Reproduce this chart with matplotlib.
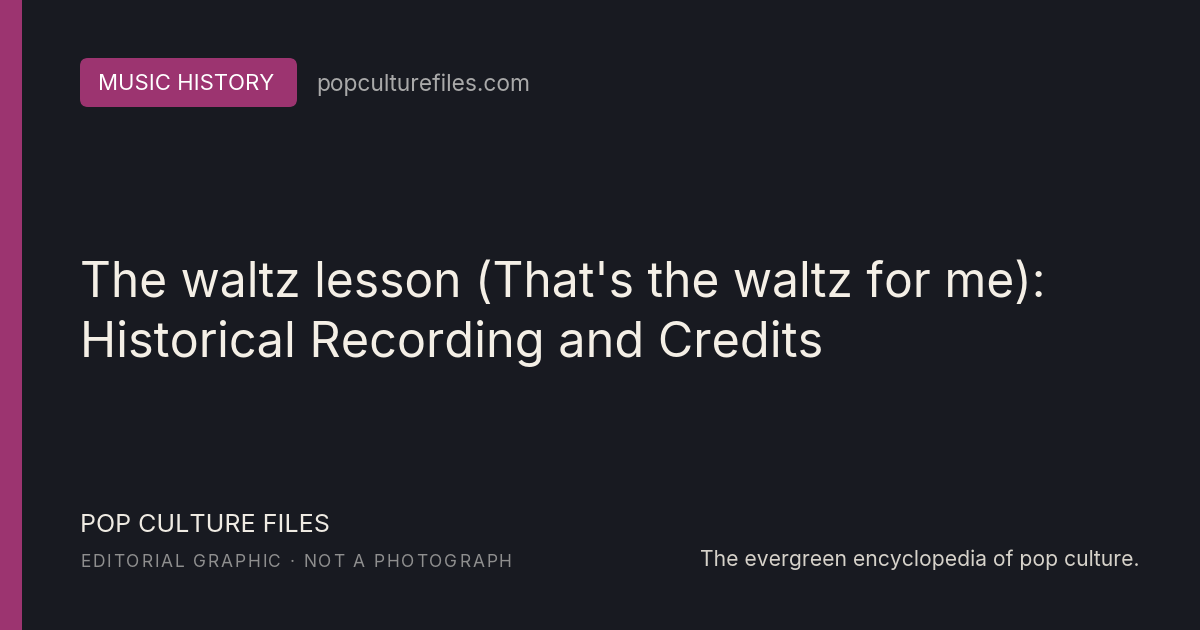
import matplotlib
matplotlib.use("Agg")
import matplotlib.pyplot as plt
from matplotlib.patches import FancyBboxPatch, Rectangle

W, H = 1200, 630
BG = "#181a21"
ACCENT = "#9c3470"
CREAM = "#f4efe6"

category_label = "MUSIC HISTORY"
site_label = "popculturefiles.com"
title_lines = ["The waltz lesson (That's the waltz for me):",
               "Historical Recording and Credits"]
brand_label = "POP CULTURE FILES"
sub_label = "EDITORIAL GRAPHIC \u00b7 NOT A PHOTOGRAPH"
tagline = "The evergreen encyclopedia of pop culture."

fig = plt.figure(figsize=(W / 100, H / 100), dpi=100)
fig.patch.set_facecolor(BG)
ax = fig.add_axes([0, 0, 1, 1])
ax.set_xlim(0, W)
ax.set_ylim(H, 0)
ax.axis("off")
ax.set_facecolor(BG)

renderer = fig.canvas.get_renderer()
FAMILY = ["Inter", "DejaVu Sans"]


def text_width(s, size, weight="normal"):
    t = ax.text(0, 0, s, fontsize=size, family=FAMILY, weight=weight)
    bb = t.get_window_extent(renderer=renderer)
    t.remove()
    return bb.width


def fit_text(x, y, s, target_w, color, weight="normal", ha="left"):
    w = text_width(s, 20, weight)
    size = 20 * target_w / w
    ax.text(x, y, s, fontsize=size, family=FAMILY, color=color,
            weight=weight, va="baseline", ha=ha)
    return size


def tracked_text(x, y, s, size, tracking, color):
    for i, ch in enumerate(s):
        if ch == " ":
            continue
        pre = s[:i]
        off = text_width(pre + "|", size) - text_width("|", size) if pre else 0
        ax.text(x + off + i * tracking, y, ch, fontsize=size, family=FAMILY,
                color=color, va="baseline", ha="left")


# left accent bar
ax.add_patch(Rectangle((0, 0), 22, H, color=ACCENT, lw=0))

# category pill
ax.add_patch(FancyBboxPatch((80 + 8, 58 + 8), 217 - 16, 49 - 16,
                            boxstyle="round,pad=8", color=ACCENT, lw=0))
fit_text(98, 90, category_label, 176, "#ffffff")
fit_text(316, 91, site_label, 214, "#a9a9a9")

# title
fit_text(80, 297, title_lines[0], 965, CREAM)
fit_text(80, 357, title_lines[1], 742, CREAM)

# footer
fit_text(80, 532, brand_label, 250, "#efebe3")
tracked_text(80, 567, sub_label, 12.5, 1.85, "#8f8f8f")
fit_text(1140, 566, tagline, 438, "#d6d2ca", ha="right")

fig.savefig("out.png", dpi=100, facecolor=BG)
